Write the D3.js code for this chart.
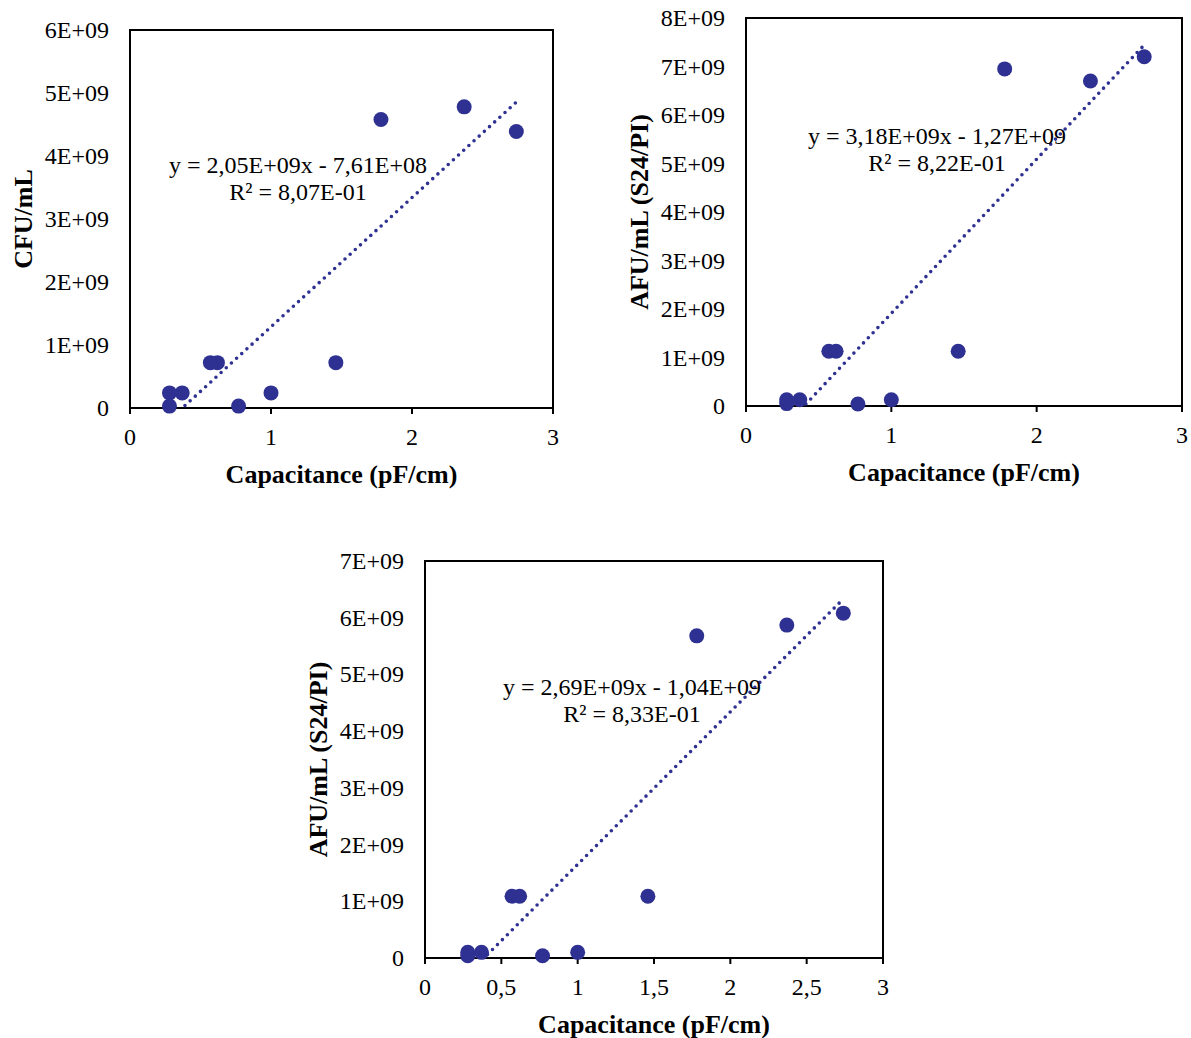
<!DOCTYPE html>
<html>
<head>
<meta charset="utf-8">
<script src="https://cdn.jsdelivr.net/npm/d3@7"></script>
<style>
  body { margin: 0; background: #fff; }
  svg { display: block; font-family: "Liberation Serif", "Times New Roman", serif; }
</style>
</head>
<body>
<svg id="chart" width="1191" height="1038"></svg>
<script>
// Shared x values (capacitance, pF/cm)
const capacitance = [0.28, 0.28, 0.37, 0.57, 0.62, 0.77, 1.00, 1.46, 1.78, 2.37, 2.74];

// Series values
const cfu  = [0.03e9, 0.24e9, 0.24e9, 0.72e9, 0.72e9, 0.03e9, 0.24e9, 0.72e9, 4.58e9, 4.78e9, 4.39e9];
const afuA = [0.05e9, 0.13e9, 0.13e9, 1.13e9, 1.13e9, 0.04e9, 0.13e9, 1.13e9, 6.95e9, 6.70e9, 7.20e9];
const afuB = [0.04e9, 0.10e9, 0.10e9, 1.09e9, 1.09e9, 0.04e9, 0.10e9, 1.09e9, 5.68e9, 5.87e9, 6.08e9];

// Trendline coefficients (as printed)
const slopes     = [2.05e9, 3.18e9, 2.69e9];
const intercepts = [-7.61e8, -1.27e9, -1.04e9];
const eqLabels   = ["y = 2,05E+09x - 7,61E+08", "y = 3,18E+09x - 1,27E+09", "y = 2,69E+09x - 1,04E+09"];
const r2Labels   = ["R² = 8,07E-01", "R² = 8,22E-01", "R² = 8,33E-01"];

// Tick values
const xTicksWhole = [0, 1, 2, 3];
const xTicksHalf  = [0, 0.5, 1, 1.5, 2, 2.5, 3];
const yTicks6 = [0, 1e9, 2e9, 3e9, 4e9, 5e9, 6e9];
const yTicks7 = [0, 1e9, 2e9, 3e9, 4e9, 5e9, 6e9, 7e9];
const yTicks8 = [0, 1e9, 2e9, 3e9, 4e9, 5e9, 6e9, 7e9, 8e9];

const yTitles = ["CFU/mL", "AFU/mL (S24/PI)", "AFU/mL (S24/PI)"];
const xTitle = "Capacitance (pF/cm)";

const blue = "#2e3192";
const svg = d3.select("#chart");

// Chart frames and label offsets
let charts = [
  { left: 130, right: 553, top: 30, bottom: 408, y: cfu, yMax: 6e9, yTicks: yTicks6, xTicks: xTicksWhole,
    eq: [298, 165], k: 0 },
  { left: 746, right: 1182, top: 18, bottom: 406, y: afuA, yMax: 8e9, yTicks: yTicks8, xTicks: xTicksWhole,
    eq: [937, 136], k: 1 },
  { left: 425, right: 883, top: 561, bottom: 958, y: afuB, yMax: 7e9, yTicks: yTicks7, xTicks: xTicksHalf,
    eq: [632, 687], k: 2 }
];

const fmtY = (d) => d === 0 ? "0" : (d / 1e9) + "E+09";
const fmtX = (d) => String(d).replace(".", ",");

charts.forEach((c, i) => {
  let x = d3.scaleLinear().domain([0, 3]).range([c.left, c.right]);
  let y = d3.scaleLinear().domain([0, c.yMax]).range([c.bottom, c.top]);
  let g = svg.append("g");

  // Clip for the trendline
  svg.append("clipPath").attr("id", "clip" + i)
    .append("rect")
    .attr("x", c.left).attr("y", c.top)
    .attr("width", c.right - c.left).attr("height", c.bottom - c.top);

  // Frame
  g.append("rect")
    .attr("x", c.left).attr("y", c.top)
    .attr("width", c.right - c.left).attr("height", c.bottom - c.top)
    .attr("fill", "none").attr("stroke", "#000").attr("stroke-width", 2);

  // X ticks
  g.selectAll(".xt").data(c.xTicks).enter().append("line")
    .attr("x1", (d) => x(d)).attr("x2", (d) => x(d))
    .attr("y1", c.bottom).attr("y2", c.bottom + 6)
    .attr("stroke", "#000").attr("stroke-width", 2);

  g.selectAll(".xl").data(c.xTicks).enter().append("text")
    .attr("x", (d) => x(d)).attr("y", c.bottom + 37)
    .attr("text-anchor", "middle")
    .style("font-size", "24px")
    .text(fmtX);

  // Y tick labels
  g.selectAll(".yl").data(c.yTicks).enter().append("text")
    .attr("x", c.left - 21).attr("y", (d) => y(d) + 8)
    .attr("text-anchor", "end")
    .style("font-size", "24px")
    .text(fmtY);

  // Axis titles
  g.append("text")
    .attr("x", (c.left + c.right) / 2).attr("y", c.bottom + 75)
    .attr("text-anchor", "middle")
    .style("font-size", "26px").style("font-weight", "bold")
    .text(xTitle);

  g.append("text")
    .attr("transform", "translate(" + (c.left - 98) + "," + ((c.top + c.bottom) / 2) + ") rotate(-90)")
    .attr("text-anchor", "middle")
    .style("font-size", "26px").style("font-weight", "bold")
    .text(yTitles[i]);

  // Trendline
  let xs = d3.extent(capacitance);
  let fit = (v) => slopes[c.k] * v + intercepts[c.k];
  g.append("line")
    .attr("clip-path", "url(#clip" + i + ")")
    .attr("x1", x(xs[0])).attr("y1", y(fit(xs[0])))
    .attr("x2", x(xs[1])).attr("y2", y(fit(xs[1])))
    .attr("stroke", blue).attr("stroke-width", 3.6)
    .attr("stroke-linecap", "round")
    .attr("stroke-dasharray", "0,7");

  // Points
  g.selectAll(".pt").data(capacitance).enter().append("circle")
    .attr("cx", (d) => x(d))
    .attr("cy", (d, j) => y(c.y[j]))
    .attr("r", 7.5)
    .attr("fill", blue);

  // Equation label
  g.append("text")
    .attr("x", c.eq[0]).attr("y", c.eq[1] + 8)
    .attr("text-anchor", "middle")
    .style("font-size", "24px")
    .text(eqLabels[c.k]);
  g.append("text")
    .attr("x", c.eq[0]).attr("y", c.eq[1] + 35)
    .attr("text-anchor", "middle")
    .style("font-size", "24px")
    .text(r2Labels[c.k]);
});
</script>
</body>
</html>
